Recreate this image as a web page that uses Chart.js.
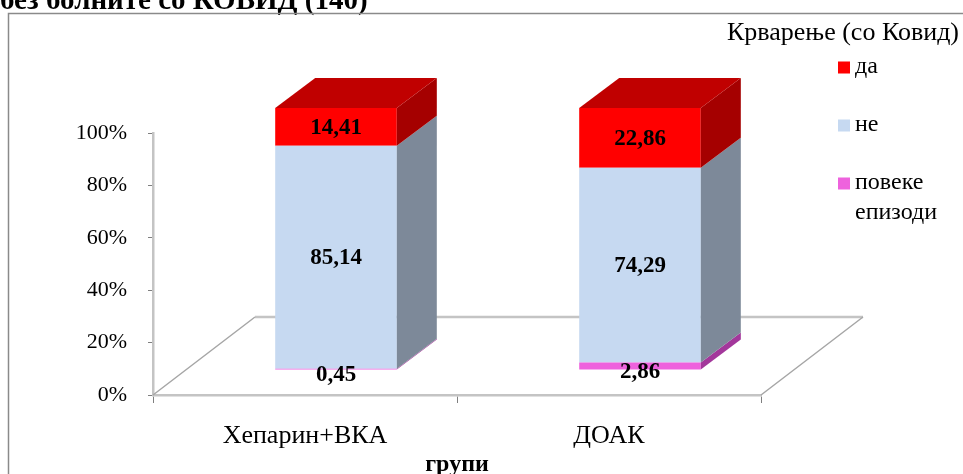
<!DOCTYPE html>
<html>
<head>
<meta charset="utf-8">
<script src="https://cdn.jsdelivr.net/npm/chart.js@4/dist/chart.umd.min.js"></script>
<style>
  html, body { margin: 0; padding: 0; background: #fff; overflow: hidden; }
  canvas { display: block; }
</style>
</head>
<body>
<canvas id="chart" width="963" height="474"></canvas>
<script>
// Groups on the category axis
const groups = ['Хепарин+ВКА', 'ДОАК'];
// Share of patients (%) per bleeding outcome, stacked bottom to top
const multipleEpisodes = [0.45, 2.86];   // повеке епизоди
const noBleeding = [85.14, 74.29];       // не
const bleeding = [14.41, 22.86];         // да
const seriesNames = ['повеке епизоди', 'не', 'да'];
const yTicks = [0, 20, 40, 60, 80, 100];

const headingText = 'без болните со КОВИД (140)';
const legendTitle = 'Крварење (со Ковид)';
const xTitle = 'групи';

const SERIF = "'Liberation Serif', 'Times New Roman', serif";

// Face colours for each series: front, right side, top
const palette = [
  { front: '#EE62DD', side: '#A3379B', top: '#C94BBB' },
  { front: '#C6D9F1', side: '#7D8999', top: '#A3B4CA' },
  { front: '#FF0000', side: '#A50000', top: '#C00000' }
];

// Oblique projection used for the 3D look
const BAR_OFFSET = { x: 31, y: -25 };   // bars sit slightly behind the front edge of the floor
const BAR_DEPTH = { x: 40, y: -30 };    // depth of each bar
const FLOOR_DEPTH = { x: 102, y: -78 }; // depth of the floor

const fmt = v => v.toFixed(2).replace('.', ',');

const frame3d = {
  id: 'frame3d',
  beforeDraw(chart) {
    const ctx = chart.ctx;
    ctx.save();
    // heading line, partly above the canvas edge
    ctx.fillStyle = '#000';
    ctx.font = 'bold 29px ' + SERIF;
    ctx.textAlign = 'left';
    ctx.textBaseline = 'alphabetic';
    ctx.fillText(headingText, 0, 9);
    // outer frame of the chart object
    ctx.strokeStyle = '#8a8a8a';
    ctx.lineWidth = 1.5;
    ctx.strokeRect(8.5, 13.5, 1200, 1200);
    ctx.restore();
  },
  beforeDatasetsDraw(chart) {
    const ctx = chart.ctx;
    const a = chart.chartArea;
    // floor outline
    ctx.save();
    ctx.strokeStyle = '#c4c4c4';
    ctx.lineWidth = 2.5;
    ctx.beginPath();
    ctx.moveTo(a.left + FLOOR_DEPTH.x, a.bottom + FLOOR_DEPTH.y);
    ctx.lineTo(a.right + FLOOR_DEPTH.x, a.bottom + FLOOR_DEPTH.y);
    ctx.stroke();
    ctx.strokeStyle = '#a6a6a6';
    ctx.lineWidth = 1.5;
    ctx.beginPath();
    ctx.moveTo(a.left, a.bottom);
    ctx.lineTo(a.left + FLOOR_DEPTH.x, a.bottom + FLOOR_DEPTH.y);
    ctx.moveTo(a.right, a.bottom);
    ctx.lineTo(a.right + FLOOR_DEPTH.x, a.bottom + FLOOR_DEPTH.y);
    ctx.stroke();
    ctx.restore();
    // bars are drawn in the plane set back from the floor's front edge
    ctx.save();
    ctx.translate(BAR_OFFSET.x, BAR_OFFSET.y);
  },
  afterDatasetsDraw(chart) {
    const ctx = chart.ctx;
    const n = chart.data.datasets.length;
    // side and top faces
    chart.data.datasets.forEach((ds, i) => {
      const meta = chart.getDatasetMeta(i);
      meta.data.forEach((el) => {
        const p = el.getProps(['x', 'y', 'base', 'width'], true);
        const left = p.x - p.width / 2, right = p.x + p.width / 2;
        const top = Math.min(p.y, p.base), bottom = Math.max(p.y, p.base);
        ctx.fillStyle = palette[i].side;
        ctx.beginPath();
        ctx.moveTo(right, top);
        ctx.lineTo(right + BAR_DEPTH.x, top + BAR_DEPTH.y);
        ctx.lineTo(right + BAR_DEPTH.x, bottom + BAR_DEPTH.y);
        ctx.lineTo(right, bottom);
        ctx.closePath();
        ctx.fill();
        if (i === n - 1) {
          ctx.fillStyle = palette[i].top;
          ctx.beginPath();
          ctx.moveTo(left, top);
          ctx.lineTo(left + BAR_DEPTH.x, top + BAR_DEPTH.y);
          ctx.lineTo(right + BAR_DEPTH.x, top + BAR_DEPTH.y);
          ctx.lineTo(right, top);
          ctx.closePath();
          ctx.fill();
        }
      });
    });
    // value labels; very thin segments get their label just below the segment
    ctx.fillStyle = '#000';
    ctx.font = 'bold 23px ' + SERIF;
    ctx.textAlign = 'center';
    ctx.textBaseline = 'middle';
    chart.data.datasets.forEach((ds, i) => {
      const meta = chart.getDatasetMeta(i);
      meta.data.forEach((el, j) => {
        const p = el.getProps(['x', 'y', 'base'], true);
        const h = Math.abs(p.base - p.y);
        const yMid = (p.y + p.base) / 2 + (h < 20 ? 6 : 1);
        ctx.fillText(fmt(ds.data[j]), p.x, yMid);
      });
    });
    ctx.restore();
  },
  afterDraw(chart) {
    const ctx = chart.ctx;
    ctx.save();
    ctx.fillStyle = '#000';
    ctx.textBaseline = 'middle';
    ctx.textAlign = 'left';
    ctx.font = '26px ' + SERIF;
    ctx.fillText(legendTitle, 727, 33);
    // legend entries, top series first
    ctx.font = '24px ' + SERIF;
    const lineH = 30, gap = 28, boxX = 838, textX = 855, box = 11;
    let y = 67;
    for (let i = chart.data.datasets.length - 1; i >= 0; i--) {
      const lines = chart.data.datasets[i].label.split(' ');
      ctx.fillStyle = palette[i].front;
      ctx.fillRect(boxX, y - box / 2, box + 1, box + 1);
      ctx.fillStyle = '#000';
      lines.forEach((t, k) => ctx.fillText(t, textX, y + k * lineH));
      y += lines.length * lineH + gap;
    }
    ctx.restore();
  }
};

const values = [multipleEpisodes, noBleeding, bleeding];

new Chart(document.getElementById('chart'), {
  type: 'bar',
  data: {
    labels: groups,
    datasets: values.map((d, i) => ({
      label: seriesNames[i],
      data: d,
      backgroundColor: palette[i].front,
      borderWidth: 0,
      clip: false,
      barPercentage: 0.4,
      categoryPercentage: 1
    }))
  },
  options: {
    responsive: false,
    animation: false,
    devicePixelRatio: 1,
    layout: { padding: { left: 0, right: 202, top: 133, bottom: 0 } },
    plugins: { legend: { display: false }, tooltip: { enabled: false } },
    scales: {
      x: {
        stacked: true,
        afterFit: s => { s.height = 79; },
        grid: { offset: true, drawOnChartArea: false, tickLength: 8, color: '#7f7f7f', lineWidth: 1 },
        border: { color: '#c4c4c4', width: 2.5 },
        ticks: { color: '#000', font: { family: SERIF, size: 26 }, padding: 18 },
        title: { display: true, text: xTitle, color: '#000', padding: 0,
                 font: { family: SERIF, size: 24, weight: 'bold', lineHeight: 0.8 } }
      },
      y: {
        stacked: true,
        min: 0,
        max: 100,
        afterFit: s => { s.width = 153; },
        afterBuildTicks: s => { s.ticks = yTicks.map(v => ({ value: v })); },
        grid: { drawOnChartArea: false, tickLength: 5, color: '#7f7f7f', lineWidth: 1 },
        border: { color: '#c4c4c4', width: 2.5 },
        ticks: { color: '#000', font: { family: SERIF, size: 22 }, padding: 21, callback: v => v + '%' }
      }
    }
  },
  plugins: [frame3d]
});
</script>
</body>
</html>
